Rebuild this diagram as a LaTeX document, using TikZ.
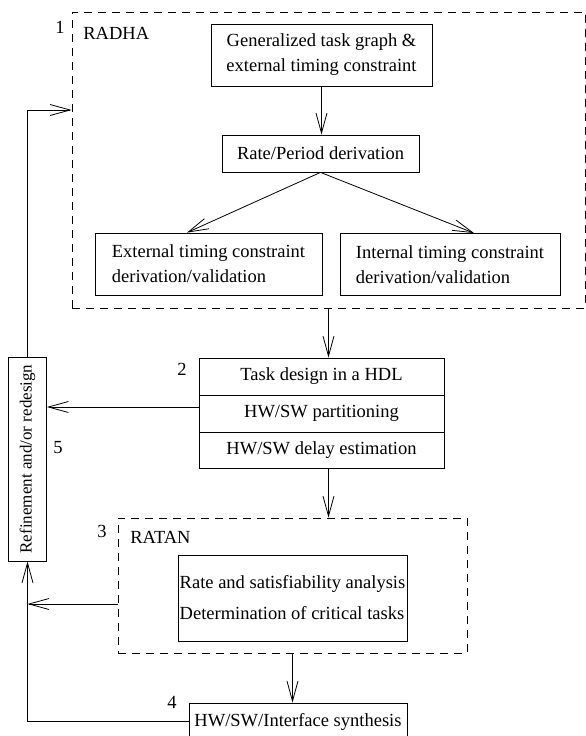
\documentclass[tikz,border=0pt]{standalone}
\usepackage{fontspec}
\setmainfont{Liberation Serif}
\usetikzlibrary{arrows.meta,calc}

\begin{document}
\begin{tikzpicture}[x=1pt, y=-1pt, line width=0.8pt, font=\fontsize{18.5}{25}\selectfont,
 box node/.style={draw, inner sep=0pt},
 group node/.style={draw, dash pattern=on 8pt off 6pt, inner sep=0pt},
 num node/.style={inner sep=0pt},
 >={Straight Barb[length=20pt,width=11pt]}]
\useasboundingbox (0,0) rectangle (586,736);
\node[group node, minimum width=513pt, minimum height=296pt] (radha) at (328.5,160) {};
\node[group node, minimum width=349pt, minimum height=135pt] (ratan) at (292.5,585.5) {};
\node[num node] (n1) at (60,27) {1};
\node[num node, anchor=west] (radhalbl) at (83,33) {RADHA};
\node[num node] (n2) at (182,369) {2};
\node[num node] (n3) at (102,531) {3};
\node[num node, anchor=west] (ratanlbl) at (130,537) {RATAN};
\node[num node] (n4) at (172,702) {4};
\node[num node] (n5) at (58,448) {5};
\node[box node, minimum width=221pt, minimum height=62pt, align=center] (gen) at (321.5,55) {Generalized task graph \&\\external timing constraint};
\node[box node, minimum width=197pt, minimum height=37pt] (rate) at (320.5,153.5) {Rate/Period derivation};
\node[box node, minimum width=227pt, minimum height=62pt, align=left] (ext) at (208.5,264) {External timing constraint\\derivation/validation};
\node[box node, minimum width=220pt, minimum height=62pt, align=left] (int) at (450,264.5) {Internal timing constraint\\derivation/validation};
\node[box node, minimum width=245pt, minimum height=37pt] (t1) at (321.5,376.5) {Task design in a HDL};
\node[box node, minimum width=245pt, minimum height=37pt] (t2) at (321.5,413.5) {HW/SW partitioning};
\node[box node, minimum width=245pt, minimum height=36pt] (t3) at (321.5,450) {HW/SW delay estimation};
\node[box node, minimum width=38pt, minimum height=204pt, font=\fontsize{17}{20}\selectfont] (ref) at (27.5,459) {\rotatebox{90}{Refinement and/or redesign}};
\node[box node, minimum width=229pt, minimum height=86pt, align=left] (rsa) at (292.5,598) {Rate and satisfiability analysis\\[6pt]Determination of critical tasks};
\node[box node, minimum width=218pt, minimum height=37pt] (syn) at (298,721.5) {HW/SW/Interface synthesis};
\coordinate (j) at (ref.south |- 0,604);
\path[->]
(gen.south) edge (gen.south |- rate.north)
(rate.south) edge ($(ext.north)+(-21.5,0)$)
(rate.south) edge ($(int.north)+(24,0)$)
(radha.south) edge (radha.south |- t1.north)
(radha.south |- t3.south) edge (radha.south |- ratan.north)
(ratan.south) edge (ratan.south |- syn.north)
(t2.west |- 0,407) edge (ref.east |- 0,407)
(ratan.west |- j) edge (j);
\draw[->] (ref.north) |- (radha.west |- 0,110);
\draw[->] (syn.west) -| (ref.south);
\end{tikzpicture}
\end{document}
